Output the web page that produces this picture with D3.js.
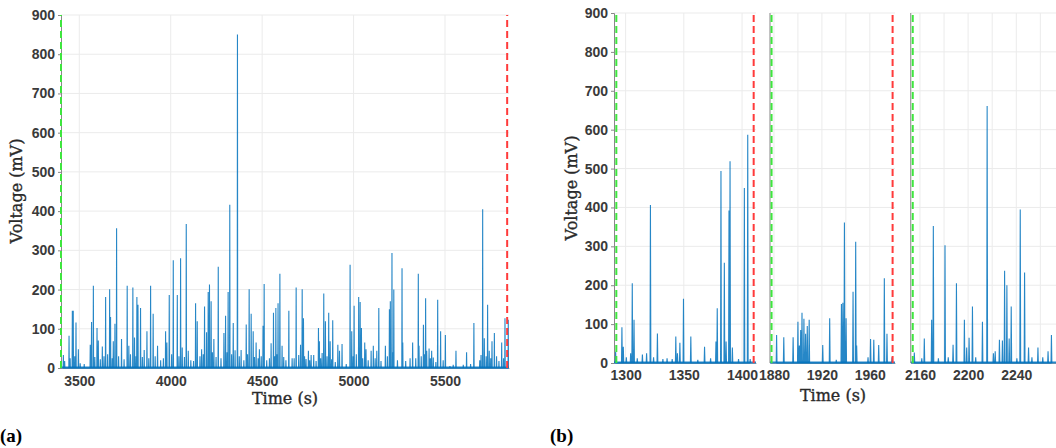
<!DOCTYPE html>
<html>
<head>
<meta charset="utf-8">
<script src="https://cdn.jsdelivr.net/npm/d3@7"></script>
<style>
  body { margin: 0; background: #fff; }
  .tick text { font-family: "Liberation Sans", Arial, sans-serif; font-weight: bold; font-size: 14px; fill: #3a3a3a; }
  .title { font-family: "DejaVu Serif", "Liberation Serif", serif; font-size: 16px; fill: #2a2a2a; stroke: #2a2a2a; stroke-width: 0.35; }
  .panel { font-family: "Liberation Serif", serif; font-weight: bold; font-size: 19px; fill: #000; }
</style>
</head>
<body>
<svg id="chart" width="1056" height="448"></svg>
<script>
// spikes: [time (s), peak voltage (mV)]
const spikesA = [
  [3413,33],[3444,82],[3462,146],[3467,146],[3482,116],[3495,48],[3527,10],[3560,59],[3567,117],[3577,210],
  [3597,102],[3604,70],[3626,55],[3644,181],[3666,201],[3671,130],[3686,68],[3695,113],[3704,356],[3731,74],
  [3762,210],[3771,57],[3793,205],[3802,78],[3815,181],[3821,161],[3835,153],[3855,46],[3870,94],[3890,210],
  [3904,138],[3928,57],[3972,94],[3979,65],[3992,186],[4014,275],[4036,186],[4054,280],[4063,52],[4085,367],
  [4096,44],[4136,165],[4145,119],[4169,48],[4185,157],[4196,91],[4205,194],[4212,213],[4221,170],[4236,74],
  [4260,258],[4291,89],[4300,133],[4314,194],[4323,416],[4342,115],[4365,850],[4385,46],[4413,111],[4429,201],
  [4440,138],[4451,94],[4467,65],[4485,48],[4505,108],[4511,214],[4549,63],[4562,141],[4575,153],[4587,165],
  [4597,240],[4609,57],[4646,146],[4664,25],[4686,205],[4700,33],[4710,59],[4719,201],[4726,127],[4740,23],
  [4753,44],[4768,33],[4782,33],[4808,102],[4813,68],[4828,38],[4837,190],[4846,119],[4864,141],[4872,68],
  [4886,122],[4914,59],[4923,44],[4937,61],[4981,263],[4990,94],[5003,159],[5028,181],[5036,168],[5043,102],
  [5061,65],[5068,48],[5096,44],[5108,57],[5127,44],[5138,153],[5174,57],[5196,150],[5201,170],[5210,293],
  [5220,200],[5265,254],[5269,65],[5309,25],[5323,65],[5354,240],[5358,57],[5382,110],[5394,178],[5400,44],
  [5413,50],[5427,44],[5436,27],[5460,174],[5476,94],[5502,84],[5527,5],[5560,44],[5618,40],[5658,115],
  [5697,33],[5706,405],[5715,76],[5733,161],[5742,44],[5757,68],[5770,89],[5782,30],[5810,65],[5828,127],[5846,123]
];
// low level activity between the larger spikes
const noiseA = [
  [3420,18],[3450,25],[3475,30],[3505,12],[3585,28],[3615,22],[3635,30],[3655,35],[3680,25],[3715,30],
  [3745,22],[3780,35],[3810,30],[3845,28],[3880,25],[3915,30],[3945,20],[3960,25],[4005,35],[4045,30],
  [4075,28],[4110,20],[4125,18],[4160,30],[4178,35],[4228,40],[4248,28],[4275,25],[4308,40],[4333,35],
  [4352,45],[4375,30],[4400,20],[4420,35],[4458,28],[4478,25],[4495,30],[4525,20],[4540,25],[4568,30],
  [4580,35],[4618,28],[4630,20],[4675,25],[4732,30],[4760,20],[4795,18],[4820,25],[4855,30],[4880,22],
  [4900,15],[4960,10],[4998,30],[5015,35],[5050,25],[5080,20],[5118,25],[5150,18],[5185,30],[5215,40],
  [5240,20],[5285,18],[5340,25],[5370,30],[5388,35],[5420,25],[5450,15],[5490,20],[5545,8],[5600,8],
  [5640,10],[5690,20],[5725,30],[5750,25],[5795,18],[5820,25]
];
const spikesB1 = [
  [1291.4,29],[1296.8,92],[1298,42],[1300.6,15],[1304.3,25],[1305.7,205],[1307.2,111],[1310,12],[1314.4,22],
  [1318,25],[1321.3,406],[1324,15],[1327.3,76],[1332,10],[1335.6,12],[1340,10],[1343.1,68],[1344.5,25],
  [1346.6,52],[1349.7,165],[1356,68],[1362,8],[1367.8,42],[1373,12],[1377.6,55],[1378.7,141],[1381.9,494],
  [1384.8,258],[1386.3,55],[1388.8,392],[1389.7,519],[1391.7,40],[1397,10],[1402,450],[1404.9,587],[1407,10]
];
const spikesB2 = [
  [1882.2,72],[1888.2,66],[1896,66],[1900,106],[1901.2,45],[1902.3,85],[1903.4,129],[1905,114],[1906.4,75],
  [1907.8,95],[1909.4,111],[1920.7,46],[1926.5,115],[1932,8],[1936.3,152],[1937.5,155],[1938.8,361],
  [1940.2,115],[1946,183],[1948.2,312],[1949,45],[1958.5,15],[1960.6,62],[1963.3,60],[1967.4,46],
  [1972.1,218],[1974.3,75],[1978.5,15]
];
const spikesB3 = [
  [2155.3,27],[2161.5,12],[2163.6,63],[2169.7,111],[2171.1,352],[2175.3,12],[2180.8,303],[2183.5,15],
  [2187.5,47],[2190.3,205],[2196.9,111],[2198.8,40],[2200.8,65],[2203.6,145],[2206.3,15],[2211.9,106],
  [2215.8,661],[2221,25],[2222.5,30],[2226,60],[2228.5,58],[2230.3,237],[2232.2,200],[2234.1,63],
  [2235.8,145],[2240.5,12],[2243.3,395],[2246.9,233],[2250.2,40],[2253,15],[2258,40],[2262,15],
  [2266.4,30],[2269.2,72]
];

const yTicks = [0,100,200,300,400,500,600,700,800,900];
const ticksA = [3500,4000,4500,5000,5500];
const ticksB1 = [1300,1350,1400];
const gridB2 = [1880,1900,1920,1940,1960];
const ticksB2 = [1880,1920,1960];
const gridB3 = [2160,2180,2200,2220,2240,2260];
const ticksB3 = [2160,2200,2240];
// start (green) and end (red) marker times
const startA = 3400, endA = 5840;
const startB1 = 1292, endB1 = 1410;
const startB2 = 1878, endB2 = 1979;
const startB3 = 2154;

const svg = d3.select("#chart");
const BLUE = "#0072BD";
const GRID = "#ebebeb";

// turns the spike list into a line that returns to zero between spikes
function spikeLine(list, w) {
  const pts = [];
  list.slice().sort((a, b) => a[0] - b[0]).forEach(d => {
    pts.push([d[0] - w, 0], [d[0], d[1]], [d[0] + w, 0]);
  });
  return pts;
}

let clipId = 0;
function drawPanel(opt) {
  const x = d3.scaleLinear().domain(opt.domain).range(opt.range);
  const y = d3.scaleLinear().domain([0, 900]).range(opt.yRange);
  const g = svg.append("g");

  // grid
  g.selectAll(".hgrid").data(yTicks.slice(1)).join("line")
    .attr("x1", opt.range[0]).attr("x2", opt.range[1])
    .attr("y1", d => y(d)).attr("y2", d => y(d))
    .attr("stroke", GRID).attr("stroke-width", 1);
  g.selectAll(".vgrid").data(opt.grid).join("line")
    .attr("x1", d => x(d)).attr("x2", d => x(d))
    .attr("y1", opt.yRange[0]).attr("y2", opt.yRange[1])
    .attr("stroke", GRID).attr("stroke-width", 1);

  // axes
  if (opt.yAxis) {
    g.append("g")
      .attr("transform", `translate(${opt.range[0]},0)`)
      .call(d3.axisLeft(y).tickValues(yTicks).tickSize(3).tickPadding(3))
      .call(a => a.select(".domain").attr("stroke", "#888"))
      .call(a => a.selectAll(".tick line").attr("stroke", "#888"));
  } else {
    g.append("line")
      .attr("x1", opt.range[0]).attr("x2", opt.range[0])
      .attr("y1", opt.yRange[0]).attr("y2", opt.yRange[1])
      .attr("stroke", "#999").attr("stroke-width", 1.2);
  }
  g.append("g")
    .attr("transform", `translate(0,${opt.yRange[0]})`)
    .call(d3.axisBottom(x).tickValues(opt.ticks).tickFormat(d3.format("d")).tickSize(0).tickPadding(opt.pad))
    .call(a => a.select(".domain").attr("stroke", "#aaa"));

  // signal
  const id = "clip" + (clipId++);
  svg.append("clipPath").attr("id", id).append("rect")
    .attr("x", opt.range[0]).attr("y", opt.yRange[1] - 2)
    .attr("width", opt.range[1] - opt.range[0]).attr("height", opt.yRange[0] - opt.yRange[1] + 4);
  const line = d3.line().x(d => x(d[0])).y(d => y(d[1]));
  const sig = g.append("g").attr("clip-path", `url(#${id})`);
  sig.append("path")
    .datum(spikeLine(opt.data, opt.w))
    .attr("d", line)
    .attr("fill", "none").attr("stroke", BLUE)
    .attr("stroke-width", 1.1).attr("stroke-opacity", 0.85)
    .attr("stroke-linejoin", "miter");
  sig.append("line")
    .attr("x1", opt.range[0]).attr("x2", opt.range[1])
    .attr("y1", y(0) - 0.5).attr("y2", y(0) - 0.5)
    .attr("stroke", BLUE).attr("stroke-width", 2.2).attr("stroke-opacity", 0.85);

  // start / end markers
  if (opt.start !== undefined) {
    g.append("line")
      .attr("x1", x(opt.start)).attr("x2", x(opt.start))
      .attr("y1", opt.yRange[0]).attr("y2", opt.yRange[1])
      .attr("stroke", "#3ee63e").attr("stroke-width", 2).attr("stroke-dasharray", "7,4");
  }
  if (opt.end !== undefined) {
    g.append("line")
      .attr("x1", x(opt.end)).attr("x2", x(opt.end))
      .attr("y1", opt.yRange[0]).attr("y2", opt.yRange[1])
      .attr("stroke", "#ff3b3b").attr("stroke-width", 2).attr("stroke-dasharray", "7,4");
  }
}

drawPanel({domain: [3400, 5850], range: [61, 509], yRange: [368, 15], grid: ticksA, ticks: ticksA, pad: 8,
  data: spikesA.concat(noiseA), w: 1.3, yAxis: true, start: startA, end: endA});
drawPanel({domain: [1290, 1412], range: [614, 756], yRange: [363, 13], grid: ticksB1, ticks: ticksB1, pad: 7,
  data: spikesB1, w: 0.35, yAxis: true, start: startB1, end: endB1});
drawPanel({domain: [1876.7, 1981], range: [770, 895], yRange: [363, 13], grid: gridB2, ticks: ticksB2, pad: 7,
  data: spikesB2, w: 0.35, yAxis: false, start: startB2, end: endB2});
drawPanel({domain: [2152.3, 2273], range: [910.7, 1056], yRange: [363, 13], grid: gridB3, ticks: ticksB3, pad: 7,
  data: spikesB3, w: 0.35, yAxis: false, start: startB3});

// axis titles
svg.append("text").attr("class", "title").attr("x", 285).attr("y", 404)
  .attr("text-anchor", "middle").text("Time (s)");
svg.append("text").attr("class", "title").attr("x", 833).attr("y", 401)
  .attr("text-anchor", "middle").text("Time (s)");
svg.append("text").attr("class", "title")
  .attr("transform", "translate(22,191) rotate(-90)")
  .attr("text-anchor", "middle").text("Voltage (mV)");
svg.append("text").attr("class", "title")
  .attr("transform", "translate(577,188) rotate(-90)")
  .attr("text-anchor", "middle").text("Voltage (mV)");

// panel letters
svg.append("text").attr("class", "panel").attr("x", 0).attr("y", 442).text("(a)");
svg.append("text").attr("class", "panel").attr("x", 550).attr("y", 442).text("(b)");
</script>
</body>
</html>
